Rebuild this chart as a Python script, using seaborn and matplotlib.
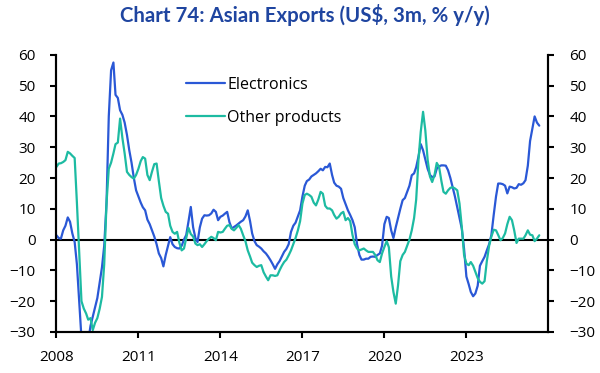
#!usr/bin/env python3

"""
Chart 74: Asian exports, electronics vs other products
"""

import numpy as np
import pandas as pd
import seaborn as sns
import matplotlib.pyplot as plt
import matplotlib.dates as mdates

# monthly values, Jan 2008 onwards (US$, 3m, % y/y)
electronics = [
    1.4, 0.5, 0.3, 3.0, 4.5, 7.2, 5.8, 2.0, -0.8, -8.0, -20.0, -32.0,
    -36.0, -38.0, -33.0, -28.0, -25.0, -22.0, -19.0, -14.0, -9.0, -2.0, 12.0, 40.0,
    55.0, 57.5, 47.0, 46.0, 42.0, 40.5, 38.0, 34.0, 29.0, 25.0, 20.0, 16.0,
    14.0, 12.0, 10.5, 9.5, 6.5, 5.0, 3.0, 1.0, -1.5, -4.5, -6.0, -8.7,
    -5.0, -2.0, 0.8, -1.5, -2.4, -2.8, -2.9, -2.0, 0.0, 1.5, 6.0, 10.6,
    4.0, 0.5, -0.8, 4.0, 6.8, 7.9, 7.8, 7.9, 8.5, 9.7, 9.0, 6.3,
    7.4, 7.8, 8.4, 9.0, 5.7, 3.6, 4.1, 4.6, 5.2, 5.8, 6.3, 7.5,
    9.5, 6.0, 2.0, -0.5, -1.8, -2.3, -2.9, -3.8, -4.5, -5.5, -6.7, -8.0,
    -9.5, -8.0, -7.0, -5.5, -4.0, -3.0, -1.5, 2.5, 4.5, 5.5, 7.5, 9.5,
    14.0, 17.5, 19.0, 19.5, 20.5, 21.0, 21.5, 22.2, 23.0, 22.5, 23.6, 23.5,
    24.7, 21.0, 18.5, 17.5, 17.2, 16.5, 13.5, 11.5, 9.5, 8.0, 6.3, 4.0,
    -1.5, -5.0, -6.5, -6.5, -6.2, -6.2, -5.6, -5.5, -5.6, -5.0, -4.5, -2.0,
    5.0, 7.4, 7.0, 3.0, 0.5, 4.0, 7.0, 10.0, 12.8, 13.5, 15.5, 17.5,
    20.9, 21.5, 23.5, 27.0, 31.0, 29.0, 26.0, 23.0, 21.0, 20.3, 20.5, 23.0,
    23.8, 24.1, 24.1, 24.0, 22.5, 20.0, 17.0, 14.0, 10.5, 7.0, 3.5, -3.0,
    -12.0, -14.5, -17.0, -18.4, -17.5, -15.0, -8.5, -7.0, -5.6, -3.5, -1.5, 1.5,
    8.0, 14.0, 18.2, 18.2, 18.0, 17.5, 15.0, 17.2, 17.0, 16.6, 16.8, 18.0,
    17.8, 18.3, 19.3, 24.0, 32.0, 36.0, 40.0, 38.0, 37.0,
]

other_products = [
    23.6, 24.7, 24.8, 25.2, 25.8, 28.5, 28.0, 27.2, 26.5, 12.0, -4.0, -20.0,
    -22.4, -24.0, -26.0, -25.5, -29.4, -27.0, -25.5, -22.5, -18.6, -8.0, 12.0, 23.0,
    25.0, 28.0, 31.0, 31.5, 39.3, 33.0, 28.0, 22.0, 21.0, 20.3, 19.8, 21.0,
    23.0, 25.5, 26.8, 26.3, 21.0, 19.3, 22.0, 24.5, 24.7, 19.0, 13.5, 11.0,
    9.0, 8.4, 4.5, 2.5, 1.9, 2.5, -1.0, -3.5, -2.9, 0.5, 3.8, 1.8,
    1.0, -1.3, -1.8, -1.5, -2.4, -1.5, -0.5, 0.3, 0.9, 0.5, -0.2, 2.5,
    2.3, 2.5, 3.5, 4.5, 4.7, 3.5, 3.0, 3.8, 4.7, 3.5, 1.4, -0.5,
    -3.5, -5.5, -7.5, -8.3, -8.9, -8.5, -8.3, -10.6, -12.0, -13.2, -11.6, -11.6,
    -11.8, -11.6, -10.0, -8.5, -7.3, -6.5, -5.1, -3.5, -1.5, 0.5, 3.0, 6.0,
    11.7, 14.5, 14.9, 14.5, 13.9, 12.0, 11.1, 13.0, 15.5, 14.9, 11.0, 10.1,
    10.1, 9.5, 8.0, 6.8, 7.4, 8.5, 9.0, 6.3, 7.0, 6.0, 1.5, -1.5,
    -2.9, -3.5, -3.2, -2.9, -3.5, -4.0, -4.0, -4.0, -5.0, -6.7, -7.3, -4.5,
    -2.4, -0.5, -2.5, -12.0, -17.0, -20.8, -15.0, -7.0, -5.0, -4.0, -2.0, 0.0,
    3.0, 7.0, 13.0, 26.0, 35.0, 41.5, 35.5, 26.0, 20.5, 18.7, 21.0, 24.9,
    23.6, 19.0, 15.5, 14.9, 16.0, 16.8, 17.0, 16.6, 16.0, 11.7, 4.0, -5.0,
    -7.8, -8.3, -7.3, -8.5, -10.5, -12.5, -13.7, -14.3, -13.5, -7.0, -2.0, 1.0,
    3.2, 3.0, 1.5, -0.2, 0.5, 2.0, 5.0, 7.4, 6.3, 3.0, -1.1, 0.3,
    0.3, 0.3, 1.4, 3.0, 1.6, 1.4, -0.5, 0.3, 1.4,
]

series_names = ["Electronics", "Other products"]
series_colors = ["#2A58D6", "#1DBBA2"]
year_ticks = [2008, 2011, 2014, 2017, 2020, 2023]
y_ticks = [-30, -20, -10, 0, 10, 20, 30, 40, 50, 60]

dates = pd.date_range("2008-01-01", periods=len(electronics), freq="MS")
df = pd.concat([
    pd.DataFrame({"date": dates, "value": electronics, "series": series_names[0]}),
    pd.DataFrame({"date": dates, "value": other_products, "series": series_names[1]}),
])

sns.set_style("ticks")
plt.rcParams['font.family'] = ['Open Sans', 'DejaVu Sans']
plt.rcParams['text.color'] = 'black'
plt.rcParams['xtick.color'] = 'black'
plt.rcParams['ytick.color'] = 'black'

fig = plt.figure(figsize=(6, 3.73), dpi=100)
ax = fig.add_axes([0.094, 0.110, 0.820, 0.743])

sns.lineplot(data=df, x="date", y="value", hue="series", hue_order=series_names,
             palette=series_colors, linewidth=1.6, ax=ax)

ax.axhline(0, color="black", linewidth=1.5, zorder=1)

ax.set_xlim(pd.Timestamp("2008-01-01"), pd.Timestamp("2026-01-01"))
ax.set_ylim(-30, 60)
ax.set_xticks([pd.Timestamp(f"{y}-01-01") for y in year_ticks])
ax.xaxis.set_major_formatter(mdates.DateFormatter("%Y"))
ax.set_yticks(y_ticks)
ax.set_xlabel("")
ax.set_ylabel("")

# right-hand axis mirrors the left one
ax2 = ax.twinx()
ax2.set_ylim(-30, 60)
ax2.set_yticks(y_ticks)

sns.despine(ax=ax, top=True, right=False)
sns.despine(ax=ax2, top=True, right=False)
for a in [ax, ax2]:
    for side in ["left", "right", "bottom"]:
        a.spines[side].set_linewidth(1.5)
        a.spines[side].set_color("black")

ax.tick_params(axis="y", direction="out", length=4, width=1.5, labelsize=11, pad=11)
ax2.tick_params(axis="y", direction="out", length=4, width=1.5, labelsize=11, pad=11)
ax.tick_params(axis="x", direction="out", length=4, width=1.5, labelsize=11, pad=9)

ax.legend(loc="upper left", bbox_to_anchor=(0.264, 0.92), frameon=False,
          fontsize=11.5, handlelength=2.4, handletextpad=0.15,
          labelspacing=1.05, borderpad=0, borderaxespad=0)

fig.suptitle("Chart 74: Asian Exports (US$, 3m, % y/y)", x=0.508, y=0.99,
             fontsize=14.7, fontweight="bold", color="#1F45A0",
             family=["Lato", "DejaVu Sans"])

plt.savefig("out.png", dpi=100)
